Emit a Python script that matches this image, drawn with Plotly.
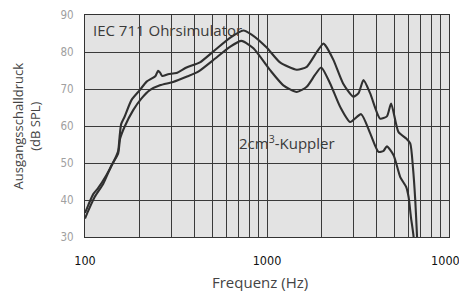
import plotly.graph_objects as go

# IEC 711 ear simulator curve
freq_iec = [100, 104, 111, 118, 131, 143, 152, 155, 158, 165, 180, 200, 218, 232, 244, 252, 258, 266, 286, 318, 361,
            428, 506, 626, 741, 823, 996, 1179, 1457, 1653, 1877, 2042, 2085, 2320, 2619, 2978, 3184, 3391,
            3690, 4178, 4557, 4807, 5272, 5822, 6124, 6336, 6526, 6667, 6750]
db_iec = [36.5, 38.5, 41.6, 43.2, 46.7, 50.2, 53.2, 57.2, 60.5, 62.5, 67.0, 69.7, 72.0, 72.8, 73.5, 74.9, 74.5, 73.5,
          74.0, 74.3, 75.8, 77.2, 80.1, 83.8, 85.8, 84.7, 81.2, 77.2, 75.2, 76.0, 80.0, 82.3, 81.9, 77.8, 71.5,
          67.9, 68.9, 72.4, 68.8, 62.0, 62.6, 66.1, 58.4, 56.6, 55.3, 48.9, 39.9, 30.5, 25.0]

# 2 cm3 coupler curve
freq_cpl = [100, 104, 113, 126, 140, 152, 156, 165, 184, 204, 227, 258, 305, 361, 419, 506, 626, 724, 842,
            1040, 1230, 1457, 1653, 1835, 1985, 2222, 2522, 2863, 3291, 3690, 4100, 4370, 4557, 4960, 5396,
            5822, 5998, 6178, 6391, 6450]
db_cpl = [35.0, 37.0, 40.8, 44.4, 49.4, 52.5, 56.6, 59.8, 64.3, 67.4, 69.7, 71.0, 71.9, 73.3, 74.7, 77.8, 81.4,
          83.0, 81.0, 75.1, 71.0, 69.2, 70.6, 73.8, 75.8, 71.5, 65.2, 61.1, 63.2, 58.0, 53.0, 53.3, 54.5, 52.1,
          46.2, 43.5, 40.8, 35.4, 30.0, 25.0]

x_ticks = [100, 1000, 10000]
x_ticktext = ["100", "1000", "10000"]
x_minor = [200, 300, 400, 500, 600, 700, 800, 900, 2000, 3000, 4000, 5000, 6000, 7000, 8000, 9000]
y_ticks = [30, 40, 50, 60, 70, 80, 90]

line_color = "#303030"
grid_color = "#3a3a3a"

fig = go.Figure()
fig.add_trace(go.Scatter(x=freq_iec, y=db_iec, mode="lines",
                         line=dict(color=line_color, width=2.1, shape="spline", smoothing=0.6),
                         showlegend=False, hoverinfo="skip"))
fig.add_trace(go.Scatter(x=freq_cpl, y=db_cpl, mode="lines",
                         line=dict(color=line_color, width=2.1, shape="spline", smoothing=0.6),
                         showlegend=False, hoverinfo="skip"))

# page body adds an 8px margin, so the figure is sized to fit the remaining window
fig.update_layout(
    width=459, height=283,
    margin=dict(l=77, r=18, t=7, b=54),
    paper_bgcolor="white",
    plot_bgcolor="#e3e3e3",
    font=dict(family="Open Sans, sans-serif", color="#3a3a3a", size=13),
    xaxis=dict(
        type="log", range=[2, 4],
        tickvals=x_ticks, ticktext=x_ticktext,
        tickfont=dict(family="DejaVu Sans Condensed, Liberation Sans Narrow, sans-serif", size=12.5, color="#111111"),
        showgrid=True, gridcolor=grid_color, gridwidth=1,
        minor=dict(tickvals=x_minor, showgrid=True, gridcolor=grid_color, gridwidth=1, ticks=""),
        showline=True, linecolor="#333333", linewidth=1, mirror=True,
        ticks="", ticklabelstandoff=12, zeroline=False, automargin=False,
    ),
    yaxis=dict(
        range=[30, 90], tickvals=y_ticks,
        tickfont=dict(family="DejaVu Sans Condensed, Liberation Sans Narrow, sans-serif", size=11.5, color="#a0a0a0"),
        showgrid=True, gridcolor=grid_color, gridwidth=1,
        showline=True, linecolor="#333333", linewidth=1, mirror=True,
        ticks="", ticklabelstandoff=8, zeroline=False, automargin=False,
    ),
    annotations=[
        dict(text="IEC 711 Ohrsimulator", xref="paper", yref="paper", x=0.0165, y=0.932,
             xanchor="left", yanchor="middle", showarrow=False, font=dict(size=15, color="#3a3a3a")),
        dict(text="2cm<sup>3</sup>-Kuppler", xref="paper", yref="paper", x=0.4167, y=0.425,
             xanchor="left", yanchor="middle", showarrow=False, font=dict(size=15, color="#3a3a3a")),
        dict(text="Frequenz (Hz)", xref="paper", yref="paper", x=0.482, y=-0.203,
             xanchor="center", yanchor="middle", showarrow=False, font=dict(size=15, color="#444444")),
        dict(text="Ausgangsschalldruck<br>(dB SPL)", xref="paper", yref="paper", x=-0.161, y=0.5,
             xanchor="center", yanchor="middle", showarrow=False, textangle=-90,
             font=dict(size=13, color="#444444")),
    ],
)

fig.write_html("out.html")
